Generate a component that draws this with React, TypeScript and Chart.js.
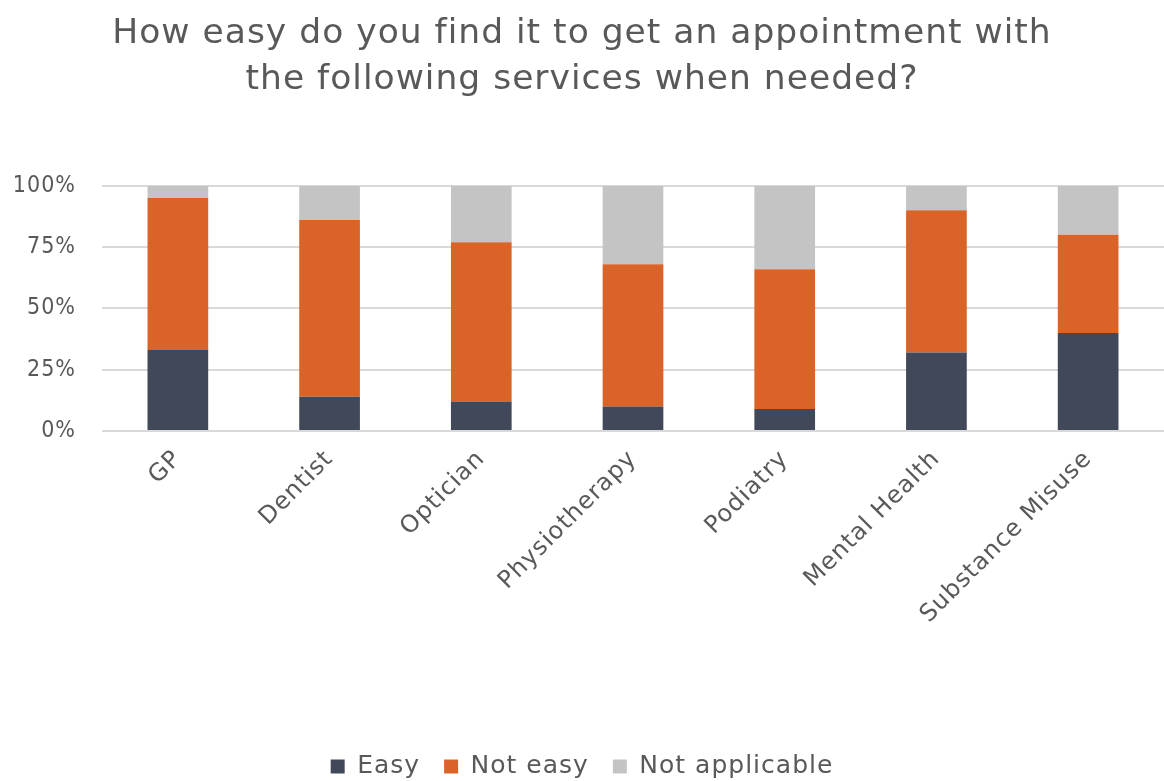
import React, { useEffect, useRef } from "react";
import { Chart, registerables } from "chart.js";

Chart.register(...registerables);

const categories = ["GP", "Dentist", "Optician", "Physiotherapy", "Podiatry", "Mental Health", "Substance Misuse"];
const easy = [33, 14, 12, 10, 9, 32, 40];
const notEasy = [62, 72, 65, 58, 57, 58, 40];
const notApplicable = [5, 14, 23, 32, 34, 10, 20];
const yTicks = [0, 25, 50, 75, 100];
const titleLines = ["How easy do you find it to get an appointment with", "the following services when needed?"];

const TEXT = "#595959";
const FONT = "'DejaVu Sans', Verdana, sans-serif";
const W = 1164;
const H = 789;

const spacingPlugin = {
  id: "letterSpacing",
  beforeUpdate(c: any) { c.ctx.letterSpacing = "1px"; },
  beforeLayout(c: any) { c.ctx.letterSpacing = "1px"; },
  beforeDraw(c: any) { c.ctx.letterSpacing = "1px"; },
};

export default function App() {
  const ref = useRef<HTMLCanvasElement | null>(null);
  useEffect(() => {
    document.body.style.margin = "0";
    document.body.style.overflow = "hidden";
    const ctx = ref.current!;
    const chart = new Chart(ctx, {
      type: "bar",
      data: {
        labels: categories,
        datasets: [
          { label: "Easy", data: easy, backgroundColor: "#404859" },
          { label: "Not easy", data: notEasy, backgroundColor: "#DA6428" },
          { label: "Not applicable", data: notApplicable, backgroundColor: "#C4C4C4" },
        ],
      },
      plugins: [spacingPlugin],
      options: {
        animation: false,
        responsive: false,
        maintainAspectRatio: false,
        layout: { padding: { left: 0, right: 0, top: 0, bottom: 0 } },
        datasets: { bar: { barPercentage: 0.4, categoryPercentage: 1 } },
        plugins: {
          title: {
            display: true,
            text: titleLines,
            color: TEXT,
            font: { family: FONT, size: 34.5, weight: "normal", lineHeight: 1.33 },
            padding: { top: 11, bottom: 83 },
          },
          legend: {
            position: "bottom",
            labels: {
              color: TEXT,
              font: { family: FONT, size: 25 },
              boxWidth: 14,
              boxHeight: 14,
              padding: 24,
            },
          },
          tooltip: { enabled: false },
        },
        scales: {
          x: {
            stacked: true,
            grid: { display: false },
            border: { display: false },
            ticks: {
              color: TEXT,
              font: { family: FONT, size: 24 },
              minRotation: 45,
              maxRotation: 45,
              padding: 6,
            },
            afterFit: (s: any) => { s.height = 299; },
          },
          y: {
            stacked: true,
            min: 0,
            max: 100,
            grid: { color: "#D9D9D9", lineWidth: 2, drawTicks: false },
            border: { display: false },
            ticks: {
              color: TEXT,
              font: { family: "'Liberation Sans Narrow', 'DejaVu Sans Condensed', sans-serif", size: 23 },
              stepSize: 25,
              padding: 26,
              callback: (v: any) => (yTicks.includes(Number(v)) ? v + "%" : ""),
            },
            afterFit: (s: any) => { s.width = 102; },
          },
        },
      },
    });
    return () => chart.destroy();
  }, []);
  return (
    <div style={{ width: W, height: 781, overflow: "hidden" }}>
      <canvas ref={ref} width={W} height={H} style={{ width: W, height: H, display: "block" }} />
    </div>
  );
}
